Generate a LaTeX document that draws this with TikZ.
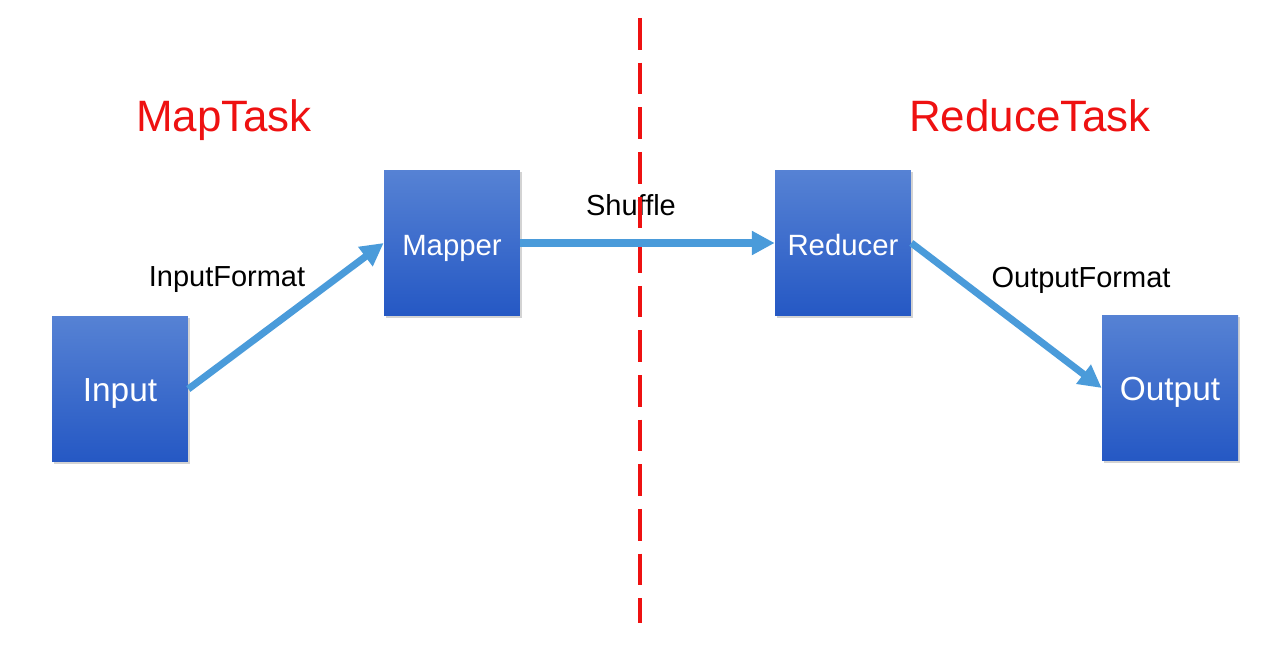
\documentclass[tikz,border=0pt]{standalone}
\usepackage{fontspec}
\setmainfont{Liberation Sans}
\usetikzlibrary{arrows.meta,shadows}

\definecolor{boxtop}{HTML}{5682D4}
\definecolor{boxbottom}{HTML}{2558C4}
\definecolor{flowblue}{HTML}{4A9BDA}
\definecolor{taskred}{HTML}{EE1111}

\tikzset{
	task/.style={draw=none, top color=boxtop, bottom color=boxbottom,
		minimum width=2.72cm, minimum height=2.92cm, inner sep=0pt,
		text=white, text height=14pt, text depth=0pt,
		drop shadow={opacity=0.35, shadow xshift=1.2pt, shadow yshift=-1.2pt}},
	bigtask/.style={task, font=\fontsize{19}{22}\selectfont},
	midtask/.style={task, font=\fontsize{16.7}{20}\selectfont},
	flow/.style={draw=flowblue, line width=4pt, -{Triangle[length=13pt,width=13pt]}},
	tasklabel/.style={anchor=base, text=taskred, font=\fontsize{25}{30}\selectfont},
	flowlabel/.style={anchor=base, text=black, font=\fontsize{16.5}{20}\selectfont}
}

\begin{document}
\begin{tikzpicture}[x=0.02cm, y=-0.02cm]
		\useasboundingbox (0,0) rectangle (1261,655);
		
		%%% TASKS
		\node[bigtask] (input)   at (120,389)  {Input};
		\node[midtask] (mapper)  at (452,243)  {Mapper};
		\node[midtask] (reducer) at (843,243)  {Reducer};
		\node[bigtask] (output)  at (1170,388) {Output};
		
		%%% TITOLI
		\node[tasklabel] (maptask)    at (224,132)  {MapTask};
		\node[tasklabel] (reducetask) at (1030,132) {ReduceTask};
		
		\node[flowlabel] (inputformat)  at (227,287)  {InputFormat};
		\node[flowlabel] (shuffle)      at (631,216)  {Shuffle};
		\node[flowlabel] (outputformat) at (1081,288) {OutputFormat};
		
		%%% CONFINE
		\coordinate (top) at (640,18);
		\coordinate (bottom) at (640,623);
		\draw[taskred, line width=2.8pt, dash pattern=on 18pt off 7.4pt] (top) -- (bottom);
		
		%%% FLUSSI
		\draw[flow] (input.east) -- (mapper.west);
		\draw[flow] (mapper.east) -- (reducer.west);
		\draw[flow] (reducer.east) -- (output.west);
	\end{tikzpicture}
\end{document}
